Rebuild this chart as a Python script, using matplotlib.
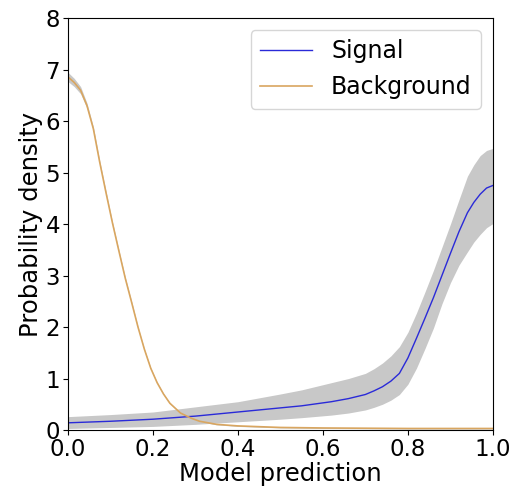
import matplotlib
matplotlib.use('Agg')
import matplotlib.pyplot as plt
import numpy as np

# signal: mean density and band edges
sig_x = [0.0, 0.1, 0.2, 0.3, 0.4, 0.5, 0.55, 0.62, 0.66, 0.7, 0.72, 0.74, 0.76, 0.78,
         0.8, 0.82, 0.84, 0.86, 0.88, 0.9, 0.92, 0.94, 0.955, 0.97, 0.985, 1.0]
sig_y = [0.14, 0.17, 0.21, 0.27, 0.35, 0.43, 0.47, 0.55, 0.61, 0.69, 0.76, 0.84, 0.95, 1.1,
         1.4, 1.78, 2.17, 2.57, 3.0, 3.43, 3.85, 4.22, 4.42, 4.58, 4.7, 4.75]
sig_hi = [0.26, 0.3, 0.35, 0.45, 0.55, 0.7, 0.78, 0.92, 1.0, 1.1, 1.19, 1.3, 1.44, 1.62,
          1.9, 2.27, 2.68, 3.1, 3.55, 4.0, 4.47, 4.93, 5.15, 5.33, 5.43, 5.47]
sig_lo = [0.03, 0.05, 0.07, 0.11, 0.16, 0.21, 0.24, 0.29, 0.33, 0.39, 0.44, 0.5, 0.58, 0.69,
          0.89, 1.2, 1.58, 1.98, 2.45, 2.86, 3.2, 3.46, 3.65, 3.8, 3.93, 4.01]

# background
bkg_x = [0.0, 0.015, 0.03, 0.045, 0.06, 0.075, 0.09, 0.105, 0.12, 0.135, 0.15, 0.165,
         0.18, 0.195, 0.21, 0.225, 0.24, 0.265, 0.29, 0.31, 0.35, 0.4, 0.5, 0.6, 0.8, 1.0]
bkg_y = [6.86, 6.75, 6.6, 6.3, 5.85, 5.2, 4.6, 4.02, 3.48, 2.95, 2.48, 2.0,
         1.57, 1.2, 0.92, 0.7, 0.52, 0.33, 0.23, 0.17, 0.11, 0.08, 0.05, 0.04, 0.03, 0.03]
bkg_err = [0.09, 0.08, 0.07, 0.05, 0.04, 0.03, 0.03, 0.02, 0.02, 0.02, 0.02, 0.01,
           0.01, 0.01, 0.01, 0.01, 0.01, 0.01, 0.01, 0.01, 0.01, 0.01, 0.01, 0.01, 0.01, 0.01]

fig = plt.figure(figsize=(5.14, 4.9), dpi=100)
ax = fig.add_axes([0.132, 0.1224, 0.827, 0.8406])

ax.fill_between(sig_x, sig_lo, sig_hi, color='#c8c8c8', lw=0)
ax.plot(sig_x, sig_y, color='#2a2ad8', lw=1, label='Signal')
b = np.array(bkg_y)
e = np.array(bkg_err)
ax.fill_between(bkg_x, b - e, b + e, color='#c8c8c8', lw=0)
ax.plot(bkg_x, bkg_y, color='#d9a660', lw=1.2, label='Background')

ax.set_xlim(0, 1)
ax.set_ylim(0, 8)
ax.tick_params(labelsize=16.5, pad=2)
ax.set_xlabel('Model prediction', fontsize=17.5, labelpad=1)
ax.set_ylabel('Probability density', fontsize=17.5, labelpad=2)
ax.legend(fontsize=17, loc='upper right', handlelength=2.2)

plt.savefig('out.png', dpi=100)
